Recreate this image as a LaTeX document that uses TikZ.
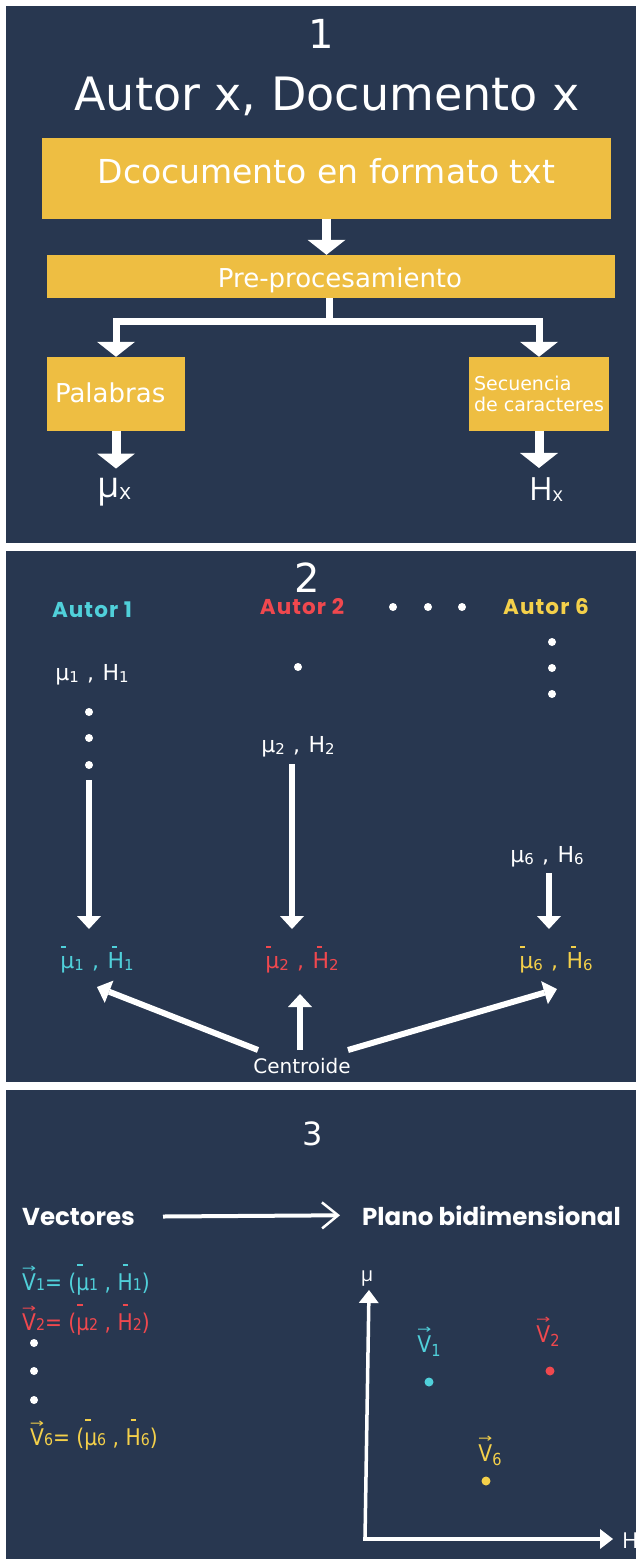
\documentclass[tikz,border=0pt]{standalone}
\usepackage{fontspec}
\setmainfont{DejaVu Sans}
\newfontfamily\dv{DejaVu Sans}
\newfontfamily\dvc[FakeStretch=0.88]{DejaVu Sans}
\newfontfamily\os{Open Sans}
\newfontfamily\pop{Poppins}
\newfontfamily\pops[LetterSpace=5]{Poppins}
\usetikzlibrary{arrows.meta,calc}
\definecolor{navy}{RGB}{40,55,80}
\definecolor{gold}{RGB}{238,190,66}
\definecolor{cy}{RGB}{80,208,218}
\definecolor{rd}{RGB}{240,72,78}
\definecolor{yl}{RGB}{244,208,74}
\newcommand\fsz[2]{\fontsize{#1}{#2}\selectfont}
\newcommand\sbs[1]{\raisebox{-0.12em}{\scalebox{0.68}{#1}}}
\newcommand\sbf[1]{\raisebox{-0.04em}{\scalebox{0.7}{#1}}}
\newcommand\sbp[1]{\raisebox{-0.2em}{\scalebox{0.72}{#1}}}
\newcommand\sbx[1]{\raisebox{-0.06em}{\scalebox{0.62}{#1}}}
\newcommand\ob[3]{\ooalign{#3\cr\kern#1\raisebox{#2}{\rule{0.22em}{0.08em}}\hfil\cr}}
\newcommand\vv[2]{\ooalign{#2\cr\hidewidth\raisebox{#1}{\resizebox{0.62em}{0.28em}{\dv →}}\hidewidth\cr}}
\newcommand\gsp{\hspace{0.38em}}
\tikzset{
  gbox/.style={fill=gold, draw=none, inner sep=0pt, text=white},
  wt/.style={text=white, inner sep=0pt},
  tx/.style={inner sep=0pt},
  bigarr/.style={draw=white, line width=9pt, -{Triangle[width=38pt,length=15pt,line width=0pt]}},
  conn/.style={draw=white, line width=7pt},
  varr/.style={draw=white, line width=6pt, -{Triangle[width=24pt,length=13pt,line width=0pt]}},
  barb/.style={draw=white, line width=4pt, -{Straight Barb[length=16pt,width=26pt,line width=2.5pt]}},
  ax/.style={draw=white, line width=3.5pt, -{Triangle[width=20pt,length=13pt,line width=0pt]}},
  wdot/.style={circle, fill=white, inner sep=0pt, minimum size=8pt},
  pdot/.style={circle, inner sep=0pt, minimum size=9pt},
  autor/.style={inner sep=0pt, anchor=base, font=\pops\bfseries\fsz{21.5}{21.5}},
  mh/.style={inner sep=0pt, anchor=base, font=\dv\fsz{22}{22}},
  fm/.style={inner sep=0pt, anchor=base west, font=\dvc\fsz{23}{23}},
  pl/.style={inner sep=0pt, anchor=base, font=\dvc\fsz{23}{23}},
}
\begin{document}
\begin{tikzpicture}[x=1pt,y=-1pt]
\useasboundingbox (0,0) rectangle (636,1559);
\fill[white] (0,0) rectangle (636,1559);
\fill[navy] (6,6) rectangle (636,543);
\fill[navy] (6,551) rectangle (636,1082);
\fill[navy] (6,1090) rectangle (636,1559);

% ---------- panel 1
\node[wt, anchor=base, font=\fsz{40}{40}] (n1) at (321,48) {1};
\node[wt, anchor=base, font=\fsz{46}{46}] (title) at (327,110) {Autor x, Documento x};
\node[gbox, minimum width=569pt, minimum height=81pt, font=\fsz{33}{33}, text height=23pt, text depth=14pt] (doc) at (326.5,178.5) {Dcocumento en formato txt};
\node[gbox, minimum width=568pt, minimum height=43pt, font=\fsz{26}{26}, text height=21pt, text depth=0pt] (pre) at (331,276.5) {\hspace*{18pt}Pre-procesamiento};
\node[gbox, minimum width=138pt, minimum height=74pt, text width=122pt, align=left, font=\fsz{26}{26}, text height=18pt, text depth=2pt] (pal) at (116,394) {Palabras};
\node[gbox, minimum width=140pt, minimum height=74pt, align=left, font=\fsz{19}{21}] (sec) at (539,394) {Secuencia\\de caracteres};
\node[wt, anchor=base, font=\os\fsz{36}{36}] (mux) at (114,497) {μ\sbx{x}};
\node[wt, anchor=base, font=\os\fsz{32}{32}] (hx) at (546,500) {H\sbx{x}};

\draw[bigarr] (doc.south) -- (doc.south |- pre.north);
\coordinate (split) at (329,321);
\draw[conn] (pre.south -| split) -- (split);
\draw[bigarr, line width=7pt] (split) -| (pal.north);
\draw[bigarr, line width=7pt] (split) -| (sec.north);
\draw[bigarr] (pal.south) -- ($(pal.south |- mux.north)+(0,-9)$);
\draw[bigarr] (sec.south) -- ($(sec.south |- hx.north)+(0,-9)$);

% ---------- panel 2
\node[wt, anchor=base, font=\fsz{40}{40}] (n2) at (307,592) {2};
\node[autor, text=cy] (au1) at (92,617) {Autor 1};
\node[autor, text=rd] (au2) at (302,614) {Autor 2};
\node[autor, text=yl] (au6) at (546,614) {Autor 6};
\node[wdot] (h1) at (393,607) {};
\node[wdot] (h2) at (428,607) {};
\node[wdot] (h3) at (462,607) {};
\node[wdot] (e1) at (552,642) {};
\node[wdot] (e2) at (552,668) {};
\node[wdot] (e3) at (552,694) {};
\node[wdot] (m2) at (298,667) {};
\node[mh, text=white] (mh1) at (92,680) {μ\sbs{1}\gsp,\gsp H\sbs{1}};
\node[wdot] (d11) at (89,712) {};
\node[wdot] (d12) at (89,738) {};
\node[wdot] (d13) at (89,765) {};
\node[mh, text=white] (mh2) at (298,752) {μ\sbs{2}\gsp,\gsp H\sbs{2}};
\node[mh, text=white] (mh6) at (547,862) {μ\sbs{6}\gsp,\gsp H\sbs{6}};
\node[mh, text=cy] (mb1) at (97,968) {\ob{0.05em}{0.92em}{μ}\sbs{1}\gsp,\gsp\ob{0.2em}{0.92em}{H}\sbs{1}};
\node[mh, text=rd] (mb2) at (302,968) {\ob{0.05em}{0.92em}{μ}\sbs{2}\gsp,\gsp\ob{0.2em}{0.92em}{H}\sbs{2}};
\node[mh, text=yl] (mb6) at (556,968) {\ob{0.05em}{0.92em}{μ}\sbs{6}\gsp,\gsp\ob{0.2em}{0.92em}{H}\sbs{6}};
\node[wt, anchor=base, font=\fsz{20}{20}] (cen) at (302,1073) {Centroide};

\coordinate (a1s) at (89,780);
\coordinate (a2s) at (292,764);
\coordinate (a6s) at (549,873);
\draw[varr] (a1s) -- (a1s |- 0,929);
\draw[varr] (a2s) -- (a2s |- 0,929);
\draw[varr] (a6s) -- (a6s |- 0,929);
\coordinate (c1) at (258,1050);
\coordinate (c2) at (300,1050);
\coordinate (c3) at (348,1050);
\coordinate (t1) at (97,987);
\coordinate (t2) at (300,994);
\coordinate (t3) at (557,989);
\draw[varr] (c1) -- (t1);
\draw[varr] (c2) -- (t2);
\draw[varr] (c3) -- (t3);

% ---------- panel 3
\node[wt, anchor=base, font=\fsz{32}{32}] (n3) at (313,1145) {3};
\node[wt, anchor=base west, font=\pop\bfseries\fsz{24.5}{24.5}] (vec) at (22,1225) {Vectores};
\node[wt, anchor=base west, font=\pop\bfseries\fsz{24.5}{24.5}] (plano) at (362,1225) {Plano bidimensional};
\draw[barb] ($(vec.east)+(28,0)$) -- ($(plano.west)+(-22,0)$);

\node[fm, text=cy] (f1) at (22,1290) {\vv{0.78em}{V}\sbf{1}= (\ob{0.05em}{1.05em}{μ}\sbf{1} , \ob{0.22em}{1.05em}{H}\sbf{1})};
\node[fm, text=rd] (f2) at (22,1330) {\vv{0.78em}{V}\sbf{2}= (\ob{0.05em}{1.05em}{μ}\sbf{2} , \ob{0.22em}{1.05em}{H}\sbf{2})};
\node[wdot] (g1) at (34,1343) {};
\node[wdot] (g2) at (34,1371) {};
\node[wdot] (g3) at (34,1400) {};
\node[fm, text=yl] (f6) at (30,1445) {\vv{0.78em}{V}\sbf{6}= (\ob{0.05em}{1.05em}{μ}\sbf{6} , \ob{0.22em}{1.05em}{H}\sbf{6})};

\coordinate (O) at (365,1539);
\coordinate (ytip) at (369,1290);
\coordinate (xtip) at (613,1539);
\draw[ax] (O) -- (ytip);
\draw[ax] ([xshift=-1.75pt]O) -- (xtip);
\node[wt, anchor=base, font=\os\fsz{20}{20}] (mul) at (367,1281) {μ};
\node[wt, anchor=base west, font=\os\fsz{22}{22}] (hl) at (622,1548) {H};

\node[pl, text=cy] (p1l) at (429,1352) {\vv{0.8em}{V}\sbp{1}};
\node[pl, text=rd] (p2l) at (548,1342) {\vv{0.8em}{V}\sbp{2}};
\node[pl, text=yl] (p6l) at (490,1461) {\vv{0.8em}{V}\sbp{6}};
\node[pdot, fill=cy] (p1) at (429,1382) {};
\node[pdot, fill=rd] (p2) at (550,1371) {};
\node[pdot, fill=yl] (p6) at (486,1481) {};
\end{tikzpicture}
\end{document}
